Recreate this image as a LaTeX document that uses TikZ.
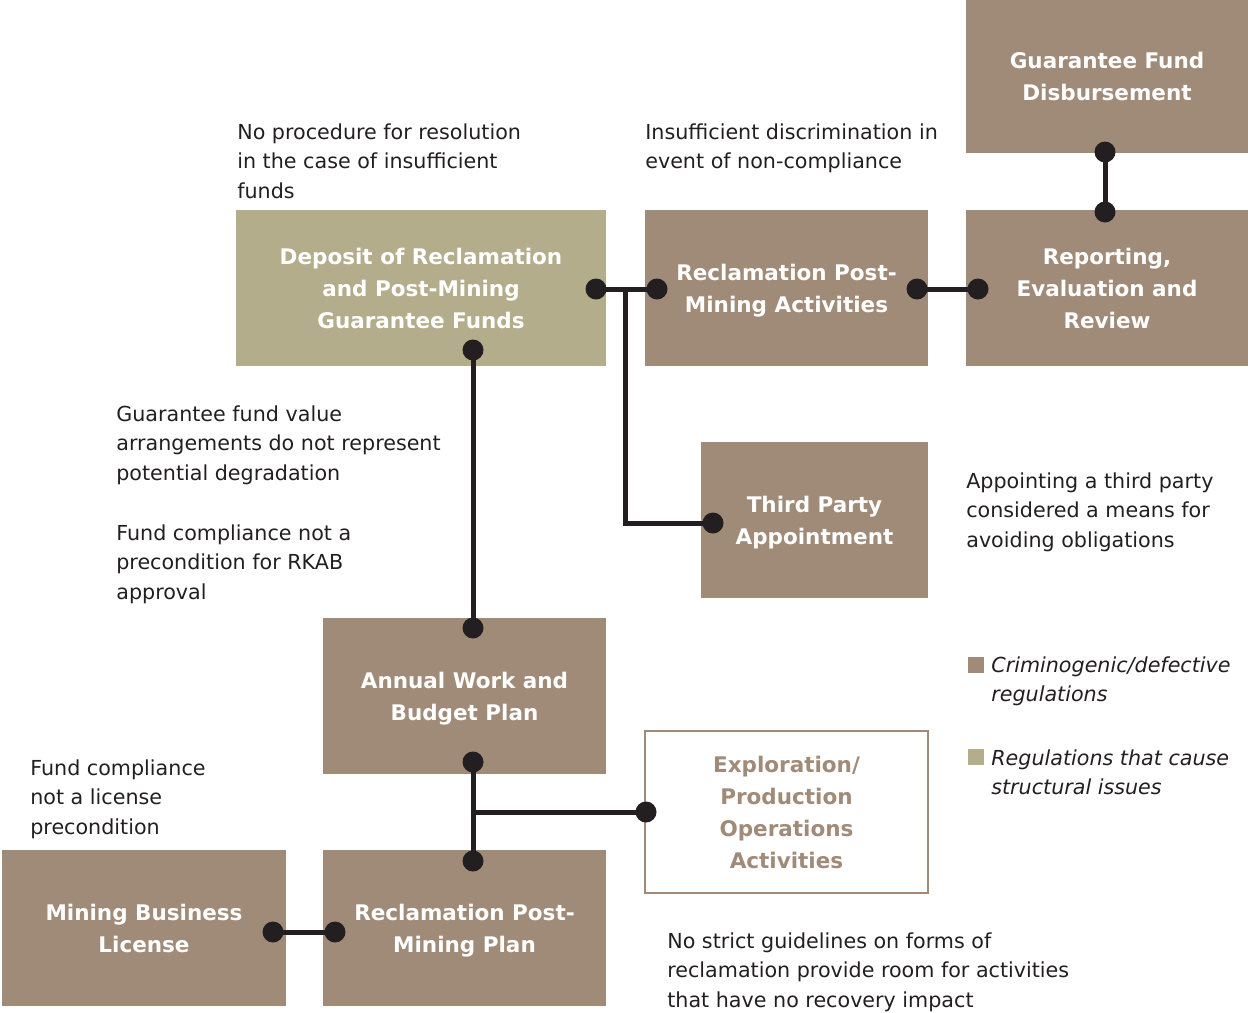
\documentclass[tikz,border=0pt]{standalone}
\usepackage{fontspec}
\setmainfont{DejaVu Sans}
\usepackage{xcolor}
\usepackage{tikz}
\definecolor{clay}{RGB}{160,139,120}
\definecolor{sage}{RGB}{179,173,140}
\definecolor{ink}{RGB}{35,31,32}
\newcommand{\joint}[1]{\fill[ink] (#1) circle [radius=10.5];}
\tikzset{
  box/.style={fill=clay, text=white, align=center, inner sep=0,
    font=\bfseries\fontsize{12.9}{19.2}\selectfont, text depth=0pt,
    minimum width=169.8pt, minimum height=93.6pt},
  note/.style={anchor=north west, align=left, inner sep=0, text=ink,
    font=\fontsize{12.4}{17.7}\selectfont},
  key/.style={note, font=\itshape\fontsize{12.4}{17.7}\selectfont},
  link/.style={ink, line width=3pt}
}

\begin{document}
\begin{tikzpicture}[x=0.6pt, y=-0.6pt]
\useasboundingbox (0,0) rectangle (1248,1012);
% boxes
\node[box, minimum width=169.2pt, minimum height=91.8pt] (gfd) at (1107,76.5) {Guarantee Fund\\Disbursement};
\node[box, fill=sage, minimum width=222pt] (dep) at (421,288) {Deposit of Reclamation\\and Post-Mining\\Guarantee Funds};
\node[box] (rpma) at (786.5,288) {Reclamation Post-\\Mining Activities};
\node[box, minimum width=169.2pt] (rev) at (1107,288) {Reporting,\\Evaluation and\\Review};
\node[box, minimum width=136.2pt] (tpa) at (814.5,520) {Third Party\\Appointment};
\node[box] (awbp) at (464.5,696) {Annual Work and\\Budget Plan};
\node[box, fill=white, draw=clay, line width=1.2pt, text=clay, minimum height=97.2pt] (epo) at (786.5,812) {Exploration/\\Production\\Operations\\Activities};
\node[box, minimum width=170.4pt] (mbl) at (144,928) {Mining Business\\License};
\node[box] (rpmp) at (464.5,928) {Reclamation Post-\\Mining Plan};

% joints
\coordinate (depE) at (596,289);
\coordinate (rpmaW) at (657,289);
\coordinate (fork) at (625,289);
\coordinate (bend) at (625,523);
\coordinate (tpaW) at (713,523);
\coordinate (depS) at (473,350);
\coordinate (awbpN) at (473,628);
\coordinate (rpmaE) at (917,289);
\coordinate (revW) at (978,289);
\coordinate (gfdS) at (1105,152);
\coordinate (revN) at (1105,212);
\coordinate (awbpS) at (473,762);
\coordinate (rpmpN) at (473,861);
\coordinate (split) at (473,812);
\coordinate (epoW) at (646,812);
\coordinate (mblE) at (273,932);
\coordinate (rpmpW) at (335,932);

\draw[link] (depE) -- (rpmaW);
\draw[link] (fork) -- (bend) -- (tpaW);
\draw[link] (depS) -- (awbpN);
\draw[link] (rpmaE) -- (revW);
\draw[link] (gfdS) -- (revN);
\draw[link] (awbpS) -- (rpmpN);
\draw[link] (split) -- (epoW);
\draw[link] (mblE) -- (rpmpW);
\joint{depE} \joint{rpmaW} \joint{tpaW} \joint{depS} \joint{awbpN}
\joint{rpmaE} \joint{revW} \joint{gfdS} \joint{revN}
\joint{awbpS} \joint{rpmpN} \joint{epoW} \joint{mblE} \joint{rpmpW}

% notes
\node[note] (n1) at (237,123) {No procedure for resolution\\in the case of insufficient\\funds};
\node[note] (n2) at (645,123) {Insufficient discrimination in\\event of non-compliance};
\node[note] (n3) at (116,405) {Guarantee fund value\\arrangements do not represent\\potential degradation};
\node[note] (n4) at (116,524) {Fund compliance not a\\precondition for RKAB\\approval};
\node[note] (n5) at (966,472) {Appointing a third party\\considered a means for\\avoiding obligations};
\node[note] (n6) at (30,759) {Fund compliance\\not a license\\precondition};
\node[note] (n7) at (667,932) {No strict guidelines on forms of\\reclamation provide room for activities\\that have no recovery impact};

% legend
\fill[clay] (968,657) rectangle (984,673);
\node[key] (k1) at (991,656) {Criminogenic/defective\\regulations};
\fill[sage] (968,749) rectangle (984,765);
\node[key] (k2) at (991,749) {Regulations that cause\\structural issues};
\end{tikzpicture}
\end{document}
